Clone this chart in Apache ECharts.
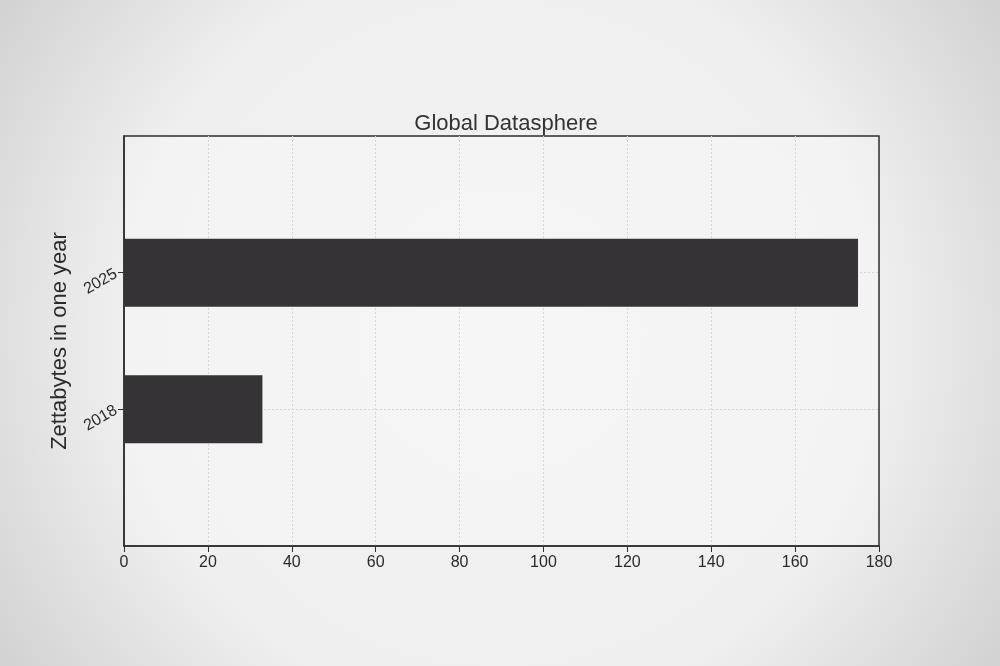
<!DOCTYPE html>
<html>
<head>
<meta charset="utf-8">
<script src="https://cdn.jsdelivr.net/npm/echarts@6/dist/echarts.min.js"></script>
<style>html,body{margin:0;padding:0;background:#ececec;}#c{width:1000px;height:666px;}</style>
</head>
<body>
<div id="c"></div>
<script>
const title = 'Global Datasphere';
const yAxisName = 'Zettabytes in one year';
const categories = ['2018', '2025'];
const values = [33, 175];
const xTicks = [0, 20, 40, 60, 80, 100, 120, 140, 160, 180];

const axisCats = [''].concat(categories, ['']);
const barData = [null].concat(values, [null]);

const chart = echarts.init(document.getElementById('c'));
const font = 'Liberation Sans, Arial, sans-serif';
chart.setOption({
  backgroundColor: {
    type: 'radial', x: 0.5, y: 0.5, r: 0.92,
    colorStops: [
      {offset: 0, color: '#f3f3f3'},
      {offset: 0.62, color: '#efefef'},
      {offset: 1, color: '#d0d0d0'}
    ]
  },
  animation: false,
  title: {
    text: title, left: 501, top: 108, textAlign: 'center',
    textStyle: {fontFamily: font, fontSize: 22, fontWeight: 'normal', color: '#333'}
  },
  grid: {left: 124, right: 121, top: 136, bottom: 120, show: true, borderColor: '#2e2e2e', borderWidth: 1.5, backgroundColor: 'rgba(255,255,255,0.25)'},
  xAxis: {
    type: 'value', min: xTicks[0], max: xTicks[xTicks.length - 1], interval: 20,
    axisLine: {show: true, lineStyle: {color: '#2e2e2e', width: 1.5}},
    axisTick: {show: true, length: 6, lineStyle: {color: '#2e2e2e'}},
    axisLabel: {fontFamily: font, fontSize: 16, color: '#2a2a2a', margin: 9},
    splitLine: {show: true, showMinLine: false, showMaxLine: false, lineStyle: {color: '#d6d6d6', type: [2, 2], width: 1}}
  },
  yAxis: {
    type: 'category', data: axisCats, boundaryGap: false,
    name: yAxisName, nameLocation: 'middle', nameGap: 53, nameRotate: 90,
    nameTextStyle: {fontFamily: font, fontSize: 22, color: '#2a2a2a'},
    axisLine: {show: true, lineStyle: {color: '#2e2e2e', width: 1.5}},
    axisTick: {show: true, length: 6, alignWithLabel: true, lineStyle: {color: '#2e2e2e'}, interval: function(i, v){ return v !== ''; }},
    axisLabel: {fontFamily: font, fontSize: 16, color: '#2a2a2a', rotate: 30, margin: 8, interval: 0},
    splitLine: {show: true, lineStyle: {color: '#d6d6d6', type: [2, 2], width: 1}, interval: function(i, v){ return v !== ''; }}
  },
  series: [{
    type: 'bar', data: barData, barWidth: 68,
    itemStyle: {color: '#353335'}
  }]
});
</script>
</body>
</html>
